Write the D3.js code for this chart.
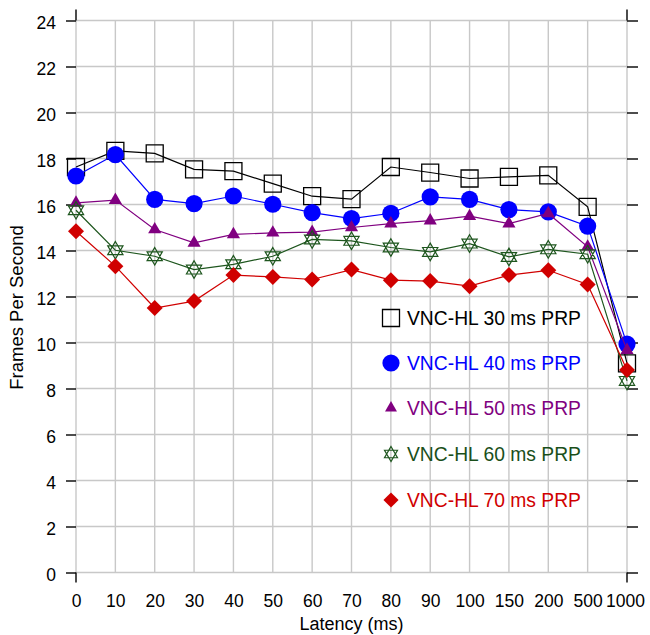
<!DOCTYPE html>
<html>
<head>
<meta charset="utf-8">
<script src="https://cdn.jsdelivr.net/npm/d3@7"></script>
<style>
  html, body { margin: 0; padding: 0; background: #fff; }
  svg { display: block; font-family: "Liberation Sans", Arial, sans-serif; }
</style>
</head>
<body>
<svg id="chart" width="650" height="635"></svg>
<script>
const categories = ["0","10","20","30","40","50","60","70","80","90","100","150","200","500","1000"];
const prp30 = [17.63, 18.33, 18.22, 17.53, 17.45, 16.91, 16.36, 16.23, 17.63, 17.39, 17.13, 17.20, 17.27, 15.90, 9.09];
const prp40 = [17.24, 18.17, 16.22, 16.04, 16.37, 16.01, 15.65, 15.39, 15.62, 16.33, 16.22, 15.78, 15.68, 15.06, 9.93];
const prp50 = [16.07, 16.19, 14.91, 14.33, 14.70, 14.77, 14.80, 15.00, 15.17, 15.30, 15.49, 15.17, 15.61, 14.16, 9.67];
const prp60 = [15.75, 14.01, 13.75, 13.17, 13.40, 13.75, 14.48, 14.42, 14.13, 13.94, 14.30, 13.72, 14.05, 13.84, 8.33];
const prp70 = [14.84, 13.32, 11.50, 11.80, 12.93, 12.85, 12.74, 13.17, 12.71, 12.67, 12.45, 12.93, 13.14, 12.52, 8.80];
const seriesNames = ["VNC-HL 30 ms PRP","VNC-HL 40 ms PRP","VNC-HL 50 ms PRP","VNC-HL 60 ms PRP","VNC-HL 70 ms PRP"];
const yTicks = [0,2,4,6,8,10,12,14,16,18,20,22,24];
const xTitle = "Latency (ms)";
const yTitle = "Frames Per Second";

const seriesValues = [prp30, prp40, prp50, prp60, prp70];
const colors = ["#000000", "#0000ff", "#800080", "#1e561e", "#d00000"];
const textColors = ["#000000", "#0000ff", "#800080", "#1a4f1a", "#d00000"];
const markers = ["square", "circle", "triangle", "star", "diamond"];

const svg = d3.select("#chart");
const plotL = 76, plotR = 627, plotT = 20.5, plotB = 572.5;

const x = d3.scalePoint().domain(categories).range([plotL, plotR]);
const y = d3.scaleLinear().domain([0, 24]).range([plotB, plotT]);

// grid
const grid = svg.append("g");
grid.selectAll("line.h").data(yTicks).join("line")
  .attr("x1", plotL).attr("x2", plotR)
  .attr("y1", d => y(d)).attr("y2", d => y(d))
  .attr("stroke", "#c8c8c8").attr("stroke-width", 1.4);
grid.selectAll("line.v").data(categories).join("line")
  .attr("x1", d => x(d)).attr("x2", d => x(d))
  .attr("y1", y(24)).attr("y2", y(0))
  .attr("stroke", "#c8c8c8").attr("stroke-width", 1.4);

// black top extensions of the side axes
svg.append("g").selectAll("line").data([categories[0], categories[categories.length-1]]).join("line")
  .attr("x1", d => x(d)).attr("x2", d => x(d))
  .attr("y1", y(24) - 11).attr("y2", y(24))
  .attr("stroke", "#000").attr("stroke-width", 1.4);

// left axis
const gl = svg.append("g").attr("transform", `translate(${plotL},0)`)
  .call(d3.axisLeft(y).tickValues(yTicks).tickSize(10).tickPadding(10).tickFormat(d3.format("d")));
gl.select(".domain").remove();
gl.selectAll(".tick line").attr("stroke", "#000").attr("stroke-width", 1.4);
gl.selectAll(".tick text").attr("font-size", 17.5).attr("fill", "#000")
  .attr("font-family", "Liberation Sans, Arial, sans-serif").attr("dy", "0.45em");

// right axis (ticks only)
const gr = svg.append("g").attr("transform", `translate(${plotR},0)`)
  .call(d3.axisRight(y).tickValues(yTicks).tickSize(11).tickFormat(""));
gr.select(".domain").remove();
gr.selectAll(".tick line").attr("stroke", "#000").attr("stroke-width", 1.4);

// bottom axis labels
const gb = svg.append("g").attr("transform", `translate(0,${plotB})`)
  .call(d3.axisBottom(x).tickSize(0).tickPadding(22));
gb.select(".domain").remove();
gb.selectAll(".tick text").attr("font-size", 17.5).attr("fill", "#000")
  .attr("font-family", "Liberation Sans, Arial, sans-serif")
  .attr("dx", d => d === "1000" ? -2 : 0);
// bottom end ticks
svg.append("g").selectAll("line").data([categories[0], categories[categories.length-1]]).join("line")
  .attr("x1", d => x(d)).attr("x2", d => x(d))
  .attr("y1", plotB).attr("y2", plotB + 10)
  .attr("stroke", "#000").attr("stroke-width", 1.4);

// titles
svg.append("text").attr("x", (plotL + plotR) / 2).attr("y", 630)
  .attr("text-anchor", "middle").attr("font-size", 18).text(xTitle);
svg.append("text").attr("transform", `translate(23,${(plotT + plotB) / 2 + 11}) rotate(-90)`)
  .attr("text-anchor", "middle").attr("font-size", 18.5).text(yTitle);

// marker generator
function markerPath(type, legend) {
  if (type === "square") return d3.symbol(d3.symbolSquare, 17 * 17)();
  if (type === "circle") return d3.symbol(d3.symbolCircle, Math.PI * 8.6 * 8.6)();
  if (type === "triangle") return d3.symbol(d3.symbolTriangle, legend ? 62 : 75)();
  if (type === "diamond") return d3.symbol(d3.symbolSquare, legend ? 115 : 128)();
  if (type === "star") {
    const r = legend ? 7.5 : 8.8;
    const p = d3.path();
    for (let k = 0; k < 2; k++) {
      const off = k === 0 ? -Math.PI / 2 : Math.PI / 2;
      for (let i = 0; i < 3; i++) {
        const a = off + i * 2 * Math.PI / 3;
        const px = r * Math.cos(a), py = r * Math.sin(a);
        if (i === 0) p.moveTo(px, py); else p.lineTo(px, py);
      }
      p.closePath();
    }
    return p.toString();
  }
}
function styleMarker(sel, i) {
  const t = markers[i];
  if (t === "square") sel.attr("fill", "none").attr("stroke", colors[i]).attr("stroke-width", 1.3);
  else if (t === "star") sel.attr("fill", "none").attr("stroke", colors[i]).attr("stroke-width", 1.2);
  else sel.attr("fill", colors[i]).attr("stroke", "none");
}

const line = d3.line().x((d, j) => x(categories[j])).y(d => y(d));

seriesValues.forEach((vals, i) => {
  const g = svg.append("g");
  g.append("path").datum(vals).attr("d", line)
    .attr("fill", "none").attr("stroke", colors[i]).attr("stroke-width", 1.2);
  const m = g.selectAll("path.m").data(vals).join("path").attr("class", "m")
    .attr("d", markerPath(markers[i], false))
    .attr("transform", (d, j) => `translate(${x(categories[j])},${y(d)})` + (markers[i] === "diamond" ? " rotate(45)" : ""));
  styleMarker(m, i);
});

// legend
const legendY = [318, 363, 408, 454, 500];
const lg = svg.append("g");
seriesNames.forEach((name, i) => {
  const row = lg.append("g").attr("transform", `translate(391,${legendY[i]})`);
  const m = row.append("path").attr("d", markerPath(markers[i], true))
    .attr("transform", markers[i] === "diamond" ? "rotate(45)" : null);
  styleMarker(m, i);
  row.append("text").attr("x", 16).attr("y", 7).attr("font-size", 19.3)
    .attr("fill", textColors[i]).text(name);
});
</script>
</body>
</html>
